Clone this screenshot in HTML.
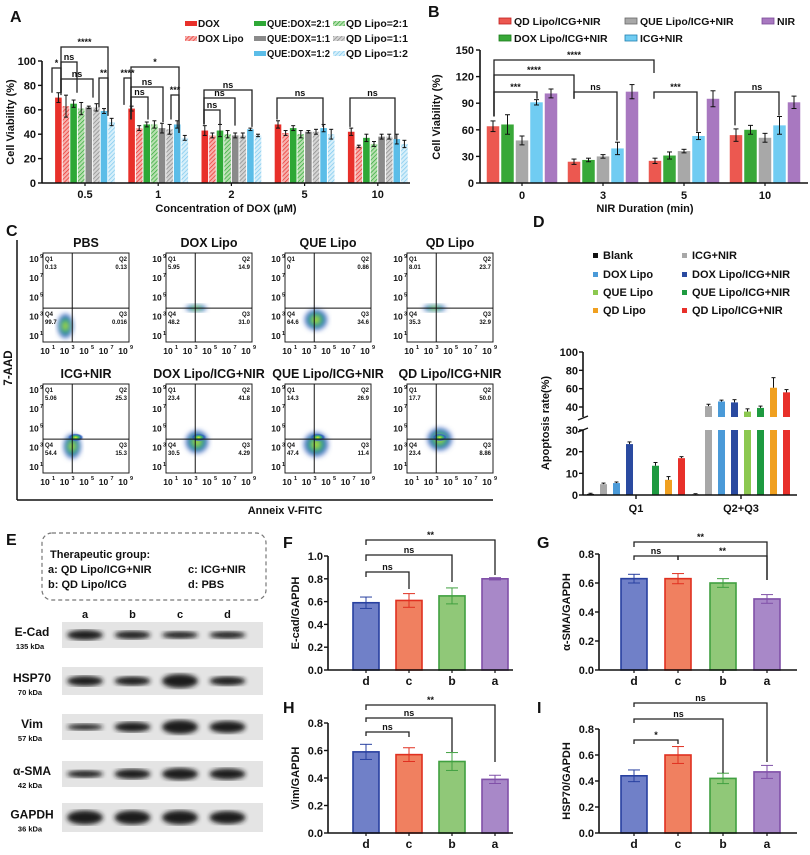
<!DOCTYPE html>
<html><head><meta charset="utf-8"><style>
body{margin:0;background:#fff}
svg{display:block;font-family:"Liberation Sans",Arial,sans-serif}
text{font-weight:bold}
</style></head><body>
<svg id="s" width="810" height="855" viewBox="0 0 810 855" xmlns="http://www.w3.org/2000/svg">
<defs>
<pattern id="hr" width="3" height="3" patternUnits="userSpaceOnUse" patternTransform="rotate(45)"><rect width="3" height="3" fill="#f7b0ad"/><line x1="0" y1="0" x2="0" y2="3" stroke="#e8302a" stroke-width="1.4"/></pattern>
<pattern id="hg" width="3" height="3" patternUnits="userSpaceOnUse" patternTransform="rotate(45)"><rect width="3" height="3" fill="#b8e0b0"/><line x1="0" y1="0" x2="0" y2="3" stroke="#2ea836" stroke-width="1.4"/></pattern>
<pattern id="hk" width="3" height="3" patternUnits="userSpaceOnUse" patternTransform="rotate(45)"><rect width="3" height="3" fill="#d4d4d4"/><line x1="0" y1="0" x2="0" y2="3" stroke="#888" stroke-width="1.4"/></pattern>
<pattern id="hb" width="3" height="3" patternUnits="userSpaceOnUse" patternTransform="rotate(45)"><rect width="3" height="3" fill="#d6effa"/><line x1="0" y1="0" x2="0" y2="3" stroke="#7cc8ee" stroke-width="1.4"/></pattern>
<radialGradient id="dot"><stop offset="0" stop-color="#f0e020"/><stop offset="0.35" stop-color="#40c060"/><stop offset="0.7" stop-color="#3060c0"/><stop offset="1" stop-color="#6080d0" stop-opacity="0"/></radialGradient>
<filter id="bl"><feGaussianBlur stdDeviation="2.5"/></filter>
</defs>
<g id="root"></g>
</svg>
<script>
// ---------- Panel A data ----------
const aCats=["0.5","1","2","5","10"];
const aSeries=["DOX","DOX Lipo","QUE:DOX=2:1","QD Lipo=2:1","QUE:DOX=1:1","QD Lipo=1:1","QUE:DOX=1:2","QD Lipo=1:2"];
const aVals=[[70,63,65,61,62,62,59,50],[61,45,48,48,45,44,48,37],[43,39,43,40,39,39,44,39],[48,41,45,40,42,42,45,40],[42,30,37,32,38,38,36,32]];
const aErr=[[4,9,3,5,1,3,2,3],[2,2,2,3,4,4,3,2],[4,2,5,3,2,2,1,1],[3,2,2,3,1,2,3,4],[3,1,3,2,2,2,4,3]];
const aTicks=[0,20,40,60,80,100];
// ---------- Panel B data ----------
const bCats=["0","3","5","10"];
const bSeries=["QD Lipo/ICG+NIR","DOX Lipo/ICG+NIR","QUE Lipo/ICG+NIR","ICG+NIR","NIR"];
const bVals=[[64,66,48,91,101],[24,26,30,39,103],[25,31,36,53,95],[54,60,51,65,91]];
const bErr=[[6,11,5,3,5],[3,2,2,7,8],[3,4,2,4,9],[7,5,5,10,7]];
const bTicks=[0,30,60,90,120,150];
// ---------- Panel D data ----------
const dCats=["Q1","Q2+Q3"];
const dSeries=["Blank","ICG+NIR","DOX Lipo","DOX Lipo/ICG+NIR","QUE Lipo","QUE Lipo/ICG+NIR","QD Lipo","QD Lipo/ICG+NIR"];
const dVals=[[0.5,5,5.5,23.5,0,13.5,7,17],[0.3,41,46,45,35,39,61,56]];
const dErr=[[0.3,0.5,0.5,1,0,1.5,1.5,0.7],[0.3,2,1.5,3,3,2,11,3]];
const dTicksLow=[0,10,20,30];
const dTicksHigh=[40,60,80,100];
// ---------- Panels F-I data ----------
const wCats=["d","c","b","a"];
const fVals=[0.59,0.61,0.65,0.80], fErr=[0.05,0.06,0.07,0.01];
const gVals=[0.63,0.63,0.60,0.49], gErr=[0.03,0.035,0.03,0.03];
const hVals=[0.59,0.57,0.52,0.39], hErr=[0.055,0.05,0.065,0.03];
const iVals=[0.44,0.60,0.42,0.47], iErr=[0.045,0.065,0.04,0.05];
// ---------- Flow data ----------
const flowTitles=["PBS","DOX Lipo","QUE Lipo","QD Lipo","ICG+NIR","DOX Lipo/ICG+NIR","QUE Lipo/ICG+NIR","QD Lipo/ICG+NIR"];
const flowQ=[["0.13","0.13","0.016","99.7"],["5.95","14.9","31.0","48.2"],["0","0.86","34.6","64.6"],["8.01","23.7","32.9","35.3"],["5.06","25.3","15.3","54.4"],["23.4","41.8","4.29","30.5"],["14.3","26.9","11.4","47.4"],["17.7","50.0","8.86","23.4"]];

const NS="http://www.w3.org/2000/svg",root=document.getElementById('root');
function E(tag,at,par){const e=document.createElementNS(NS,tag);for(const k in at)e.setAttribute(k,at[k]);(par||root).appendChild(e);return e;}
function T(x,y,s,size,anchor,par,extra){const t=E('text',Object.assign({x:x,y:y,'font-size':size,'text-anchor':anchor||'middle',fill:'#111'},extra||{}),par);t.textContent=s;return t;}
function L(x1,y1,x2,y2,w,par,c){return E('line',{x1,y1,x2,y2,stroke:c||'#111','stroke-width':w||1.5},par);}
function bracket(x1,x2,y,yb1,yb2,label,g){E('polyline',{points:`${x1},${yb1} ${x1},${y} ${x2},${y} ${x2},${yb2}`,fill:'none',stroke:'#222','stroke-width':1.3},g);T((x1+x2)/2,y-2,label,9,'middle',g);}
function errbar(x,y1,y2,w,g,c){L(x,y1,x,y2,1,g,c);L(x-w,y1,x+w,y1,1,g,c);L(x-w,y2,x+w,y2,1,g,c);}

// ===== Panel A =====
(function(){
const g=E('g',{});
T(10,22,'A',16,'start',g);
const x0=42,x1=410,y0=183,y100=61;
const ys=v=>y0-(y0-y100)*v/100;
const fills=['#e8302a','url(#hr)','#2ea836','url(#hg)','#8a8a8a','url(#hk)','#5bbde8','url(#hb)'];
const gx=i=>85+i*73.2, bw=7.6;
aCats.forEach((c,i)=>{aVals[i].forEach((v,j)=>{const x=gx(i)+(j-3.5)*bw;
 const r=E('rect',{x:x-bw/2+0.5,y:ys(v),width:bw-1,height:y0-ys(v),fill:fills[j]},g);
 
 
 errbar(x,ys(v+aErr[i][j]),ys(v-aErr[i][j]),2,g);});
 T(gx(i),198,c,11,'middle',g);L(gx(i),y0,gx(i),y0+3,1.2,g);});
L(x0,y0,x1,y0,1.6,g);L(x0,y100,x0,y0,1.6,g);
aTicks.forEach(t=>{L(x0-4,ys(t),x0,ys(t),1.4,g);T(x0-6,ys(t)+4,t,11,'end',g);});
T(0,0,'Cell Viability (%)',11,'middle',g,{transform:`translate(14,122) rotate(-90)`});
T(226,212,'Concentration of DOX (μM)',11,'middle',g);
const lg=[[185,25],[185,40],[254,25],[254,40],[254,55],[333,25],[333,40],[333,55]];
const lorder=[0,1,2,4,6,3,5,7];
lorder.forEach((s,k)=>{const p=lg[k];E('rect',{x:p[0],y:p[1]-4,width:12,height:5,fill:fills[s]},g);
 const ex=k<2?{}:{textLength:k<5?63:62,lengthAdjust:'spacingAndGlyphs'};
 T(p[0]+13,p[1]+2,aSeries[s],10,'start',g,ex);});
bracket(52,61,68,ys(74),ys(72),'*',g);
bracket(61,77,62,ys(74),ys(74),'ns',g);
bracket(61,93,79,ys(74),ys(70),'ns',g);
bracket(61,108,47,ys(74),ys(58),'****',g);
bracket(99,108,78,ys(62),ys(55),'**',g);
bracket(124,131,78,ys(64),ys(52),'****',g);
bracket(131,148,97,ys(52),ys(52),'ns',g);
bracket(131,163,87,ys(52),ys(50),'ns',g);
bracket(131,179,67,ys(52),ys(41),'*',g);
bracket(171,179,95,ys(52),ys(41),'***',g);
bracket(204,220,110,ys(48),ys(48),'ns',g);
bracket(204,235,98,ys(48),ys(47),'ns',g);
bracket(204,252,90,ys(48),ys(46),'ns',g);
bracket(277,323,98,ys(52),ys(46),'ns',g);
bracket(350,395,98,ys(46),ys(36),'ns',g);
})();

// ===== Panel B =====
(function(){
const g=E('g',{});
T(428,17,'B',16,'start',g);
const x0=480,x1=808,y0=183,yT=50;const ys=v=>y0-(y0-yT)*v/150;
const fills=['#ec5850','#38a838','#a8a8a8','#70ccf2','#a878c0'],strokes=['#c02020','#1a7a1a','#666','#2080b0','#7a4a98'];
const gx=i=>522+i*81,bw=14.5;
bCats.forEach((c,i)=>{bVals[i].forEach((v,j)=>{const x=gx(i)+(j-2)*bw;
 const r=E('rect',{x:x-bw/2+1,y:ys(v),width:bw-2,height:y0-ys(v),fill:fills[j]},g);
 
 
 errbar(x,ys(v+bErr[i][j]),ys(v-bErr[i][j]),2.5,g);});
 T(gx(i),199,c,11,'middle',g);L(gx(i),y0,gx(i),y0+3,1.2,g);});
L(x0,y0,x1,y0,1.6,g);L(x0,yT,x0,y0,1.6,g);
bTicks.forEach(t=>{L(x0-4,ys(t),x0,ys(t),1.4,g);T(x0-6,ys(t)+4,t,11,'end',g);});
T(0,0,'Cell Viability (%)',11,'middle',g,{transform:`translate(440,117) rotate(-90)`});
T(645,212,'NIR Duration (min)',11,'middle',g);
const lp=[[502,23],[502,40],[628,23],[628,40],[765,23]],lo=[0,1,2,3,4];
lo.forEach((s,k)=>{const p=lp[k];E('rect',{x:p[0]-3,y:p[1]-5,width:12,height:6,fill:fills[s],stroke:strokes[s],'stroke-width':0.8},g);T(p[0]+12,p[1]+2,bSeries[s],10.5,'start',g);});
bracket(494,654,60,ys(75),ys(124),'****',g);
bracket(494,574,75,ys(75),ys(95),'****',g);
bracket(494,537,92,ys(75),ys(95),'***',g);
bracket(574,617,92,ys(95),ys(48),'ns',g);
bracket(654,697,92,ys(95),ys(58),'***',g);
bracket(735,779,92,ys(65),ys(76),'ns',g);
})();

// ===== Panel C =====
(function(){
const g=E('g',{});
T(6,236,'C',16,'start',g);
const cols=[43,166,285,407],rows=[253,384],W=86,H=89;
const cloud=[[0.26,0.82,9,14],[0.35,0.62,12,4],[0.36,0.75,13,12],[0.32,0.62,13,4],[0.34,0.7,10,14],[0.36,0.65,13,13],[0.36,0.68,14,14],[0.38,0.62,14,13]];
flowTitles.forEach((tt,k)=>{const cx=cols[k%4],cy=rows[Math.floor(k/4)];
 const sg=E('g',{},g);
 T(cx+W/2,cy-6,tt,12.5,'middle',sg);
 const c=cloud[k];E('ellipse',{cx:cx+W*c[0],cy:cy+H*c[1],rx:c[2],ry:c[3],fill:'url(#dot)',filter:'url(#bl)'},sg);
 if(k>=4){E('ellipse',{cx:cx+W*0.38,cy:cy+H*0.6,rx:8,ry:4,fill:'url(#dot)'},sg);}
 E('rect',{x:cx,y:cy,width:W,height:H,fill:'none',stroke:'#222','stroke-width':1},sg);
 L(cx+W*0.34,cy,cx+W*0.34,cy+H,1,sg);L(cx,cy+H*0.62,cx+W,cy+H*0.62,1,sg);
 const q=flowQ[k];
 T(cx+2,cy+8,'Q1',6,'start',sg);T(cx+2,cy+16,q[0],6,'start',sg);
 T(cx+W-2,cy+8,'Q2',6,'end',sg);T(cx+W-2,cy+16,q[1],6,'end',sg);
 T(cx+2,cy+H*0.62+8,'Q4',6,'start',sg);T(cx+2,cy+H*0.62+16,q[3],6,'start',sg);
 T(cx+W-2,cy+H*0.62+8,'Q3',6,'end',sg);T(cx+W-2,cy+H*0.62+16,q[2],6,'end',sg);
 ['1','3','5','7','9'].forEach((e,i)=>{const tx=cx+4+i*19.5;T(tx-2,cy+H+12,'10',8.5,'middle',sg);T(tx+5,cy+H+7,e,5.5,'start',sg);
  const ty=cy+H-6-i*19.3;T(cx-9,ty+3,'10',8.5,'middle',sg);T(cx-3,ty-1,e,5.5,'start',sg);});
});
L(17,240,17,500,1.5,g);L(17,500,493,500,1.5,g);
T(0,0,'7-AAD',11.5,'middle',g,{transform:'translate(12,368) rotate(-90)'});
T(285,514,'Anneix V-FITC',11,'middle',g);
})();

// ===== Panel D =====
(function(){
const g=E('g',{});
T(533,227,'D',16,'start',g);
const cols=['#111','#a8a8a8','#4a9ad8','#2a4aa0','#8cc850','#1e9a40','#f0a020','#e8302a'];
const lp=[[593,258],[593,277],[593,295],[593,313],[682,258],[682,277],[682,295],[682,313]];
const lo=[0,2,4,6,1,3,5,7];
lo.forEach((s,k)=>{const p=lp[k];E('rect',{x:p[0],y:p[1]-5,width:5,height:5,fill:cols[s]},g);T(p[0]+10,p[1]+1,dSeries[s],11,'start',g);});
const x0=583,x1=797,y0=495,y30=430,y40=407,y100=352;
const ys=v=>v<=30?y0-(y0-y30)*v/30:y40-(y40-y100)*(v-40)/60;
dCats.forEach((c,i)=>{const gc=i?741:636;dVals[i].forEach((v,j)=>{const x=gc+(j-3.5)*13;
 const top=ys(v);
 if(v>30){E('rect',{x:x-3.5,y:y30,width:7,height:y0-y30,fill:cols[j]},g);E('rect',{x:x-3.5,y:top,width:7,height:(y40+10)-top,fill:cols[j]},g);}
 else{E('rect',{x:x-3.5,y:top,width:7,height:y0-top,fill:cols[j]},g);}
 const rr=g.lastChild;
 
 if(v>0.2){const ye=ys(v+dErr[i][j]);L(x,ye,x,top,1,g);L(x-2,ye,x+2,ye,1,g);}
 });
 L(gc,y0,gc,y0+4,1.4,g);T(gc,512,c,11,'middle',g);});
L(x0,y0,x1,y0,1.6,g);L(x0,y30,x0,y0,1.6,g);L(x0,y100,x0,y40+10,1.6,g);
L(x0-5,y40+13,x0+5,y40+9,1.4,g);L(x0-5,y30+2,x0+5,y30-2,1.4,g);
dTicksLow.forEach(t=>{L(x0-4,ys(t),x0,ys(t),1.4,g);T(x0-5,ys(t)+4,t,11,'end',g);});
dTicksHigh.forEach(t=>{L(x0-4,ys(t),x0,ys(t),1.4,g);T(x0-5,ys(t)+4,t,11,'end',g);});
T(0,0,'Apoptosis rate(%)',11,'middle',g,{transform:'translate(549,423) rotate(-90)'});
})();

// ===== Panel E =====
(function(){
const g=E('g',{});
T(6,545,'E',16,'start',g);
E('rect',{x:42,y:533,width:224,height:67,rx:10,fill:'none',stroke:'#777','stroke-width':1.2,'stroke-dasharray':'4,3'},g);
T(50,558,'Therapeutic group:',11,'start',g);
T(48,573,'a: QD Lipo/ICG+NIR',11,'start',g);T(188,573,'c: ICG+NIR',11,'start',g);
T(48,588,'b: QD Lipo/ICG',11,'start',g);T(188,588,'d: PBS',11,'start',g);
['a','b','c','d'].forEach((l,i)=>T(85+i*47.5,618,l,11,'middle',g));
const prots=[['E-Cad','135 kDa',622,648,[5,4,3.5,3.5]],['HSP70','70 kDa',667,695,[5,4.5,7,4.5]],['Vim','57 kDa',714,740,[3,5,7,6]],['α-SMA','42 kDa',761,787,[3.5,5,6,5.5]],['GAPDH','36 kDa',803,832,[7,7,7,6.5]]];
prots.forEach(p=>{const bg=E('g',{},g);
 E('rect',{x:62,y:p[2],width:201,height:p[3]-p[2],fill:'#e4e4e4'},bg);
 p[4].forEach((h,i)=>E('ellipse',{cx:85+i*47.5,cy:(p[2]+p[3])/2,rx:18,ry:h,fill:'#1a1a1a',filter:'url(#bl)'},bg));
 T(32,(p[2]+p[3])/2+1,p[0],12,'middle',bg);T(30,(p[2]+p[3])/2+14,p[1],7.5,'middle',bg);});
})();

// ===== Panels F-I =====
function wbar(name,lab,lx,ly,ax,y0,yTop,xr,cen,vals,errs,ylab,br){
 const g=E('g',{});
 T(lx,ly,lab,16,'start',g);
 const ys=v=>y0-(y0-yTop)*v/(lab==='F'?1:0.8);
 const fills=['#7080c8','#f08060','#90c878','#a888c8'],st=['#2840a0','#e03020','#40a040','#8050a8'];
 vals.forEach((v,i)=>{const x=cen[i];
  const r=E('rect',{x:x-13,y:ys(v),width:26,height:y0-ys(v),fill:fills[i],stroke:st[i],'stroke-width':1.6},g);
  
  
  errbar(x,ys(v+errs[i]),ys(v-errs[i]),6,g,st[i]);
  L(x,y0,x,y0+3,1.2,g);T(x,y0+15,wCats[i],12,'middle',g);});
 L(ax,y0,xr,y0,1.6,g);L(ax,yTop,ax,y0,1.6,g);
 const ticks=lab==='F'?[0,0.2,0.4,0.6,0.8,1.0]:[0,0.2,0.4,0.6,0.8];
 ticks.forEach(t=>{L(ax-4,ys(t),ax,ys(t),1.4,g);T(ax-5,ys(t)+4,t.toFixed(1),11,'end',g);});
 T(0,0,ylab,11,'middle',g,{transform:`translate(${ax-29},${(y0+yTop)/2}) rotate(-90)`});
 br.forEach(b=>bracket(cen[b[0]],cen[b[1]],b[2],b[3],b[4],b[5],g));
}
wbar('panel-f','F',283,548,328,670,556,513,[366,409,452,495],fVals,fErr,'E-cad/GAPDH',[[0,3,540,545,575,'**'],[0,2,555,561,582,'ns'],[0,1,572,577,589,'ns']]);
wbar('panel-g','G',537,548,599,670,554,797,[634,678,723,767],gVals,gErr,'α-SMA/GAPDH',[[0,3,542,547,580,'**'],[0,1,556,560,560,'ns'],[1,3,556,560,580,'**']]);
wbar('panel-h','H',283,713,328,833,723,513,[366,409,452,495],hVals,hErr,'Vim/GAPDH',[[0,3,705,710,762,'**'],[0,2,718,722,752,'ns'],[0,1,732,736,737,'ns']]);
wbar('panel-i','I',537,713,599,833,729,797,[634,678,723,767],iVals,iErr,'HSP70/GAPDH',[[0,3,703,707,762,'ns'],[0,2,719,723,773,'ns'],[0,1,740,744,744,'*']]);
</script>
</body></html>
